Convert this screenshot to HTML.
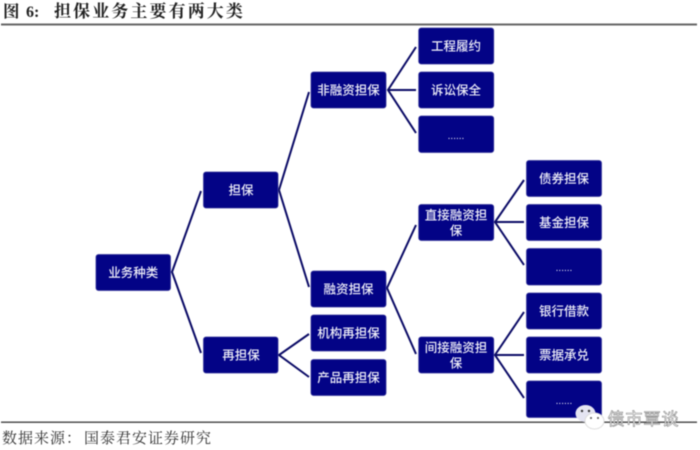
<!DOCTYPE html>
<html><head><meta charset="utf-8">
<style>
html,body{margin:0;padding:0;background:#fff}
svg{display:block;filter:blur(.4px)}
.n rect{fill:#030386;stroke:#35359a;stroke-width:.8}
.n text{font-family:"Liberation Sans","Noto Sans CJK SC",sans-serif;font-size:12.5px;font-weight:500;fill:#eeeef8;text-anchor:middle}
.l path{stroke:#0b0b66;stroke-width:2;fill:none}
</style></head><body>
<svg width="700" height="450" viewBox="0 0 700 450" xmlns="http://www.w3.org/2000/svg">
<rect width="700" height="450" fill="#fff"/>
<text x="3" y="17" font-family="'Liberation Serif','Noto Serif CJK SC',serif" font-size="16.5" font-weight="700" fill="#222">图</text>
<text x="26" y="17" font-family="'Liberation Serif',serif" font-size="16" font-weight="700" fill="#222">6:</text>
<text x="54" y="17" font-family="'Liberation Serif','Noto Serif CJK SC',serif" font-size="17" font-weight="700" letter-spacing="2.1" fill="#222">担保业务主要有两大类</text>
<rect x="1" y="23.5" width="696" height="2" fill="#666"/>
<g class="l">
<path d="M201 191L172 272L201 353"/>
<path d="M309 92L279 190L309 287"/>
<path d="M416 47L388 90L416 133M388 90H416"/>
<path d="M416 225L387 288L416 354"/>
<path d="M309 334L279 355L309 377"/>
<path d="M524 180L495 222L524 265M495 222H524"/>
<path d="M524 312L495 355L524 398M495 355H524"/>
</g>
<g class="n">
<rect x="96" y="254.5" width="74.500" height="36" rx="2.500"/><text x="133.200" y="277">业务种类</text>
<rect x="203.500" y="172" width="74.500" height="36" rx="2.500"/><text x="241" y="194.500">担保</text>
<rect x="203.500" y="337" width="74.500" height="36" rx="2.500"/><text x="241" y="359.500">再担保</text>
<rect x="311" y="72" width="75" height="36" rx="2.500"/><text x="348.500" y="94.500">非融资担保</text>
<rect x="311" y="271" width="75" height="36" rx="2.500"/><text x="348.500" y="293.500">融资担保</text>
<rect x="311" y="315" width="75" height="36" rx="2.500"/><text x="348.500" y="337.500">机构再担保</text>
<rect x="311" y="359.500" width="75" height="36" rx="2.500"/><text x="348.500" y="382">产品再担保</text>
<rect x="418.700" y="28" width="75" height="36" rx="2.500"/><text x="456" y="50.500">工程履约</text>
<rect x="418.700" y="72" width="75" height="36" rx="2.500"/><text x="456" y="94.500">诉讼保全</text>
<rect x="418.700" y="116" width="75" height="36.500" rx="2.500"/><text x="456" y="139" style="font-size:10px">......</text>
<rect x="418.700" y="204.500" width="75" height="36" rx="2.500"/><text x="456" y="219.500">直接融资担</text><text x="456" y="235">保</text>
<rect x="418.700" y="337" width="75" height="36" rx="2.500"/><text x="456" y="352">间接融资担</text><text x="456" y="367.500">保</text>
<rect x="526.500" y="160.500" width="75" height="36" rx="2.500"/><text x="564" y="183">债券担保</text>
<rect x="526.500" y="204.500" width="75" height="36" rx="2.500"/><text x="564" y="227">基金担保</text>
<rect x="526.500" y="248.500" width="75" height="36.500" rx="2.500"/><text x="564" y="271" style="font-size:10px">......</text>
<rect x="526.500" y="293" width="75" height="36" rx="2.500"/><text x="564" y="315.500">银行借款</text>
<rect x="526.500" y="337" width="75" height="36" rx="2.500"/><text x="564" y="359.500">票据承兑</text>
<rect x="526.500" y="381" width="75" height="36.500" rx="2.500"/><text x="564" y="404" style="font-size:10px">......</text>
</g>
<rect x="1" y="421.500" width="696" height="1.400" fill="#444"/>
<text x="2" y="443" font-family="'Liberation Serif','Noto Serif CJK SC',serif" font-size="15" letter-spacing="1" fill="#333">数据来源：</text>
<text x="84" y="443" font-family="'Liberation Serif','Noto Serif CJK SC',serif" font-size="15" letter-spacing="1" fill="#333">国泰君安证券研究</text>
<ellipse cx="585.500" cy="413.500" rx="10" ry="8.500" fill="#e4e4f2"/>
<circle cx="582" cy="411" r="1.200" fill="#333"/><circle cx="589" cy="411" r="1.200" fill="#333"/>
<ellipse cx="594.500" cy="421" rx="9.500" ry="8" fill="#fff" stroke="#ddd" stroke-width="1"/>
<circle cx="591" cy="418" r="1" fill="#555"/><circle cx="598" cy="418" r="1" fill="#555"/>
<text x="607.500" y="425" font-family="'Liberation Sans','Noto Sans CJK SC',sans-serif" font-size="17" letter-spacing="1" fill="#fff" stroke="#888" stroke-width=".6">债市覃谈</text>
</svg>
</body></html>
